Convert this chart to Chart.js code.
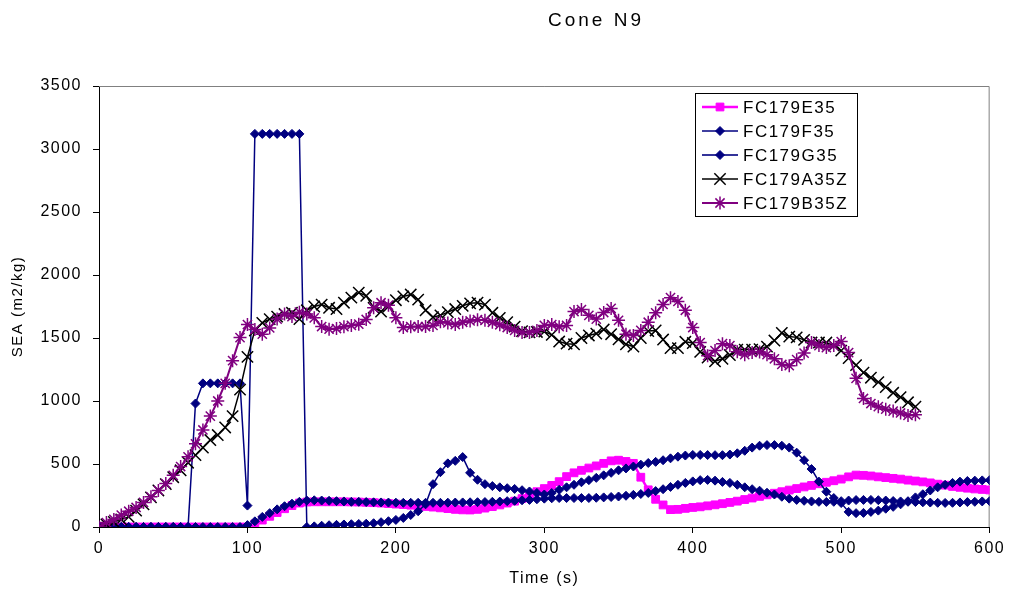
<!DOCTYPE html>
<html>
<head>
<meta charset="utf-8">
<title>Cone N9</title>
<script src="https://cdn.jsdelivr.net/npm/chart.js@4.4.1/dist/chart.umd.min.js"></script>
<style>
  html, body { margin: 0; padding: 0; background: #fff; }
  #wrap { position: relative; width: 1009px; height: 592px; }
</style>
</head>
<body>
<div id="wrap"><canvas id="cone"></canvas></div>
<script>
// time axis (s), one sample every 5 s
const times = [
  0, 5, 10, 15, 20, 25, 30, 35, 40, 45, 50, 55,
  60, 65, 70, 75, 80, 85, 90, 95, 100, 105, 110, 115,
  120, 125, 130, 135, 140, 145, 150, 155, 160, 165, 170, 175,
  180, 185, 190, 195, 200, 205, 210, 215, 220, 225, 230, 235,
  240, 245, 250, 255, 260, 265, 270, 275, 280, 285, 290, 295,
  300, 305, 310, 315, 320, 325, 330, 335, 340, 345, 350, 355,
  360, 365, 370, 375, 380, 385, 390, 395, 400, 405, 410, 415,
  420, 425, 430, 435, 440, 445, 450, 455, 460, 465, 470, 475,
  480, 485, 490, 495, 500, 505, 510, 515, 520, 525, 530, 535,
  540, 545, 550, 555, 560, 565, 570, 575, 580, 585, 590, 595, 600
];

const fc179E35 = [
  0, 0, 0, 0, 0, 0, 0, 0, 0, 0, 0, 0, 0, 0, 0, 0, 0, 0, 0, 0, 0,
  25, 55, 85, 115, 145, 170, 190, 198,
  200, 200, 200, 200, 200, 199, 198, 196, 193, 190, 186, 182,
  178, 173, 168, 163, 158, 152, 146, 140, 136, 135, 140, 150,
  162, 175, 190, 205, 225, 250, 280, 305, 330, 360, 400, 430,
  450, 468, 485, 505, 525, 530, 520, 505, 395, 295, 220, 175,
  138, 140, 148, 155, 160, 168, 176, 185, 195, 205, 218, 230,
  243, 255, 268, 280, 293, 305, 318, 330, 343, 355, 367, 380,
  398, 412, 410, 405, 398, 392, 386, 380, 372, 365, 358, 350,
  340, 332, 322, 315, 308, 302, 298, 294
];

const fc179F35 = [
  0, 0, 0, 0, 0, 0, 0, 0, 0, 0, 0, 0, 0,
  980, 1140, 1140, 1140, 1140, 1140, 1140, 170,
  3120, 3120, 3120, 3120, 3120, 3120, 3120, 0,
  5, 10, 14, 17, 20, 22, 24, 26, 30, 38, 46, 56,
  72, 95, 125, 180, 340, 435, 505, 525, 555, 430, 375, 340,
  325, 315, 308, 302, 292, 282, 270, 258, 270, 295, 315, 335,
  355, 372, 390, 410, 430, 450, 465, 480, 495, 508, 517, 530,
  545, 558, 567, 572, 572, 571, 570, 570, 575, 585, 605, 630,
  645, 650, 650, 645, 630, 590, 530, 460, 360, 280, 230, 190,
  120, 110, 112, 120, 130, 145, 160, 180, 205, 235, 260, 290,
  315, 335, 350, 360, 365, 368, 370, 372
];

const fc179G35 = [
  0, 0, 0, 0, 0, 0, 0, 0, 0, 0, 0, 0, 0, 0, 0, 0, 0, 0, 0, 0,
  15, 45, 80, 110, 140, 165, 185, 200, 210,
  212, 210, 208, 205, 203, 200, 200, 198, 196, 195, 194, 193,
  192, 192, 192, 192, 192, 192, 193, 194, 195, 196, 197, 198,
  200, 202, 205, 208, 212, 215, 220, 225, 228, 230, 230, 230,
  230, 230, 232, 235, 238, 242, 248, 255, 262, 270, 285, 300,
  318, 335, 350, 362, 372, 374, 368, 358, 350, 335, 315, 300,
  288, 272, 258, 240, 225, 215, 208, 203, 200, 199, 200, 205,
  210, 214, 215, 215, 213, 210, 206, 203, 200, 198, 196, 194,
  192, 191, 192, 195, 198, 200, 203, 205
];

const fc179A35Z = [
  0, 20, 40, 60, 80, 130, 180, 235, 290, 340, 395, 450,
  510, 570, 630, 690, 730, 790, 880, 1090, 1350, 1560, 1620, 1650,
  1670, 1690, 1700, 1650, 1720, 1750, 1765, 1740, 1730, 1780, 1820, 1860,
  1835, 1740, 1710, 1750, 1800, 1830, 1845, 1805, 1720, 1665, 1680, 1705,
  1730, 1755, 1775, 1780, 1765, 1700, 1660, 1625, 1590, 1555, 1545, 1548,
  1551, 1525, 1472, 1455, 1450, 1500, 1520, 1535, 1567, 1530, 1490, 1450,
  1432, 1500, 1555, 1560, 1488, 1420, 1420, 1470, 1460, 1390, 1345, 1315,
  1335, 1365, 1408, 1408, 1408, 1412, 1432, 1480, 1540, 1511, 1505, 1485,
  1464, 1464, 1464, 1440, 1400, 1340, 1285, 1225, 1185, 1150, 1110, 1065,
  1030, 990, 955
];

const fc179B35Z = [
  0, 35, 60, 95, 125, 155, 195, 240, 290, 345, 410, 480,
  557, 660, 770, 880, 1000, 1140, 1320, 1503, 1607, 1567, 1530, 1580,
  1650, 1690, 1670, 1705, 1690, 1660, 1591, 1570, 1575, 1590, 1600, 1610,
  1647, 1740, 1780, 1760, 1660, 1583, 1590, 1591, 1591, 1600, 1628, 1620,
  1607, 1625, 1635, 1645, 1640, 1625, 1605, 1583, 1560, 1543, 1543, 1560,
  1600, 1607, 1590, 1600, 1710, 1726, 1680, 1650, 1702, 1735, 1640, 1530,
  1520, 1560, 1625, 1700, 1766, 1820, 1790, 1720, 1583, 1464, 1360, 1400,
  1455, 1440, 1390, 1368, 1385, 1388, 1368, 1335, 1290, 1280, 1328, 1380,
  1465, 1440, 1424, 1440, 1472, 1384, 1180, 1020, 980, 955, 935, 920,
  905, 885, 891
];

const FONT = '"Liberation Sans", Arial, sans-serif';

function points(values) {
  return values.map((v, i) => ({ x: times[i], y: v }));
}

function series(label, values, o) {
  return {
    label,
    data: points(values),
    borderColor: o.line,
    borderWidth: o.width || 1.5,
    pointStyle: o.style,
    pointRadius: o.radius,
    pointBackgroundColor: o.fill,
    pointBorderColor: o.marker,
    pointBorderWidth: o.markerWidth || 1,
    pointHoverRadius: o.radius,
    tension: 0,
    fill: false,
    order: o.order,
  };
}

const datasets = [
  series('FC179E35', fc179E35, { line: '#ff00ff', width: 2.5, style: 'rect', radius: 5.5, fill: '#ff00ff', marker: '#ff00ff', order: 5 }),
  series('FC179F35', fc179F35, { line: '#000080', style: 'rectRot', radius: 4.5, fill: '#000080', marker: '#000080', order: 4 }),
  series('FC179G35', fc179G35, { line: '#333399', width: 2, style: 'rectRot', radius: 4.5, fill: '#000080', marker: '#000080', order: 3 }),
  series('FC179A35Z', fc179A35Z, { line: '#000000', style: 'crossRot', radius: 8, fill: 'rgba(0,0,0,0)', marker: '#000000', markerWidth: 1.5, order: 2 }),
  series('FC179B35Z', fc179B35Z, { line: '#800080', width: 2, style: 'star', radius: 6.5, fill: 'rgba(0,0,0,0)', marker: '#800080', markerWidth: 1.5, order: 1 }),
];

// Excel-like extras: spaced text, grey plot frame, title and boxed legend
const excelLook = {
  id: 'excelLook',
  beforeDraw(chart) {
    chart.ctx.letterSpacing = '1.5px';
  },
  beforeDatasetsDraw(chart) {
    const { ctx, chartArea: a } = chart;
    ctx.save();
    ctx.strokeStyle = '#808080';
    ctx.lineWidth = 1;
    ctx.beginPath();
    ctx.moveTo(a.left, a.top + 0.5);
    ctx.lineTo(a.right - 0.5, a.top + 0.5);
    ctx.lineTo(a.right - 0.5, a.bottom);
    ctx.stroke();
    ctx.restore();
  },
  afterDraw(chart) {
    const ctx = chart.ctx;
    ctx.save();
    ctx.fillStyle = '#000';
    ctx.letterSpacing = '3px';
    ctx.font = '19px ' + FONT;
    ctx.textAlign = 'center';
    ctx.textBaseline = 'middle';
    ctx.fillText('Cone N9', 596, 21);

    // legend
    const box = { x: 695.5, y: 93.5, w: 162, h: 123 };
    ctx.fillStyle = '#fff';
    ctx.fillRect(box.x, box.y, box.w, box.h);
    ctx.strokeStyle = '#000';
    ctx.lineWidth = 1;
    ctx.strokeRect(box.x, box.y, box.w, box.h);
    ctx.font = '17px ' + FONT;
    ctx.letterSpacing = '1.5px';
    ctx.textAlign = 'left';
    chart.data.datasets.forEach((ds, i) => {
      const y = 107 + i * 24;
      ctx.strokeStyle = ds.borderColor;
      ctx.lineWidth = ds.borderWidth;
      ctx.beginPath();
      ctx.moveTo(702, y);
      ctx.lineTo(738, y);
      ctx.stroke();
      if (Chart.helpers && Chart.helpers.drawPoint) {
        ctx.fillStyle = ds.pointBackgroundColor;
        ctx.strokeStyle = ds.pointBorderColor;
        ctx.lineWidth = ds.pointBorderWidth;
        Chart.helpers.drawPoint(ctx, { pointStyle: ds.pointStyle, radius: ds.pointRadius, rotation: 0, borderWidth: ds.pointBorderWidth }, 720, y);
      }
      ctx.fillStyle = '#000';
      ctx.fillText(ds.label, 743, y + 1);
    });
    ctx.restore();
  },
};

new Chart(document.getElementById('cone'), {
  type: 'line',
  data: { datasets },
  options: {
    responsive: true,
    maintainAspectRatio: false,
    animation: false,
    events: [],
    layout: { padding: { top: 86, right: 19, left: 0, bottom: 0 } },
    plugins: {
      legend: { display: false },
      title: { display: false },
      tooltip: { enabled: false },
    },
    scales: {
      x: {
        type: 'linear',
        min: 0,
        max: 600,
        afterFit(scale) { scale.height = 65; },
        ticks: { stepSize: 100, color: '#000', font: { family: FONT, size: 16 }, padding: 6, maxRotation: 0, callback: v => String(v) },
        grid: { display: true, drawOnChartArea: false, drawTicks: true, tickLength: 6, color: '#000' },
        border: { display: true, color: '#000', width: 1 },
        title: { display: true, text: 'Time (s)', color: '#000', font: { family: FONT, size: 16 }, padding: { top: 0, bottom: 4 } },
      },
      y: {
        min: 0,
        max: 3500,
        afterFit(scale) { scale.width = 99; },
        ticks: { stepSize: 500, color: '#000', font: { family: FONT, size: 16 }, padding: 11, callback: v => String(v) },
        grid: { display: true, drawOnChartArea: false, drawTicks: true, tickLength: 6, color: '#000' },
        border: { display: true, color: '#000', width: 1 },
        title: { display: true, text: 'SEA (m2/kg)', color: '#000', font: { family: FONT, size: 15 }, padding: { top: 9, bottom: 0 } },
      },
    },
  },
  plugins: [excelLook],
});
</script>
</body>
</html>
